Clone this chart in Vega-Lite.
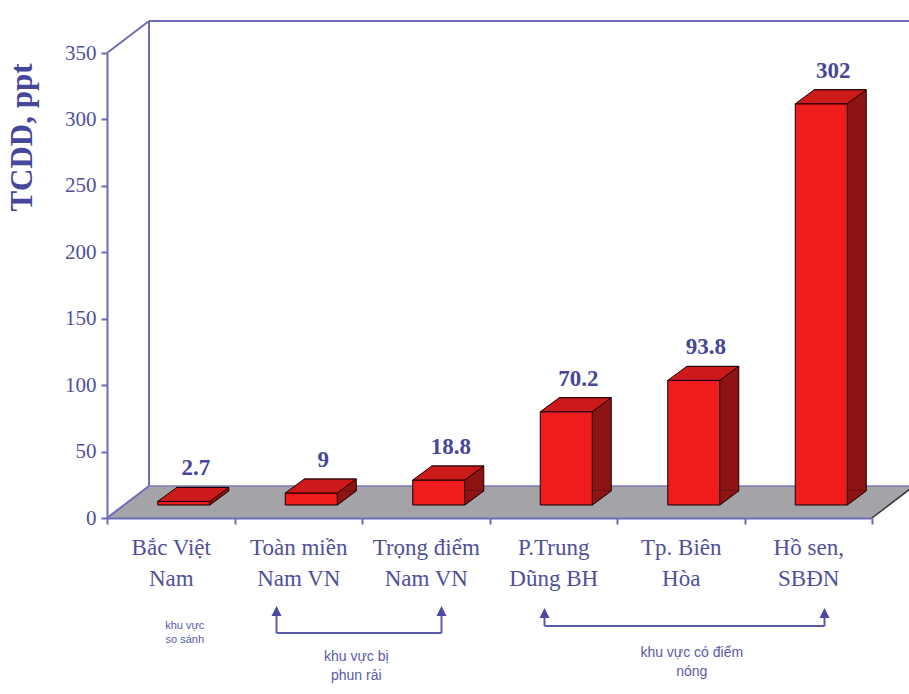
{
  "$schema": "https://vega.github.io/schema/vega-lite/v6.json",
  "width": 765,
  "height": 465,
  "autosize": {"type": "none"},
  "padding": {"left": 107, "top": 53, "right": 37, "bottom": 176},
  "background": "#ffffff",
  "config": {"view": {"stroke": null}},
  "datasets": {
    "bars": [
      {"site": "Bắc Việt\nNam", "tcdd": 2.7},
      {"site": "Toàn miền\nNam VN", "tcdd": 9},
      {"site": "Trọng điểm\nNam VN", "tcdd": 18.8},
      {"site": "P.Trung\nDũng BH", "tcdd": 70.2},
      {"site": "Tp. Biên\nHòa", "tcdd": 93.8},
      {"site": "Hồ sen,\nSBĐN", "tcdd": 302}
    ]
  },
  "layer": [
    {
      "data": {"name": "bars"},
      "mark": {"type": "text", "font": "Liberation Serif", "fontWeight": "bold", "fontSize": 23, "color": "#46469a", "xOffset": 25, "yOffset": -46, "baseline": "middle", "align": "center"},
      "encoding": {
        "x": {
          "field": "site", "type": "nominal", "sort": null,
          "scale": {"type": "band", "paddingInner": 0, "paddingOuter": 0,
            "domain": ["Bắc Việt\nNam", "Toàn miền\nNam VN", "Trọng điểm\nNam VN", "P.Trung\nDũng BH", "Tp. Biên\nHòa", "Hồ sen,\nSBĐN"]},
          "axis": {
            "title": null, "orient": "bottom", "zindex": 1,
            "domainColor": "#6b6bb8", "domainWidth": 2,
            "tickBand": "extent", "tickColor": "#6b6bb8", "tickWidth": 2, "tickSize": 6,
            "labelExpr": "split(datum.label, '\\n')", "labelAngle": 0,
            "labelAlign": "center", "labelBaseline": "top",
            "labelFont": "Liberation Serif", "labelFontSize": 23, "labelColor": "#505099",
            "labelPadding": 12, "labelLineHeight": 31
          }
        },
        "y": {
          "field": "tcdd", "type": "quantitative",
          "scale": {"domain": [0, 350], "nice": false, "zero": true},
          "axis": {
            "title": "TCDD, ppt", "zindex": 1, "grid": false,
            "values": [0, 50, 100, 150, 200, 250, 300, 350],
            "domainColor": "#6b6bb8", "domainWidth": 2,
            "tickColor": "#6b6bb8", "tickWidth": 2, "tickSize": 6,
            "labelFont": "Liberation Serif", "labelFontSize": 21, "labelColor": "#505099", "labelPadding": 5,
            "titleFont": "Liberation Serif", "titleFontWeight": "bold", "titleFontSize": 31, "titleColor": "#46469a",
            "titleX": -85, "titleY": 84, "titleAngle": -90, "titleAlign": "center", "titleBaseline": "middle"
          }
        },
        "text": {"field": "tcdd", "type": "quantitative"}
      }
    },
    {
      "data": {"values": [{}]},
      "mark": {"type": "rule", "color": "#6b6bb8", "strokeWidth": 2, "xOffset": -63.75, "x2Offset": -21.75, "y2Offset": -32},
      "encoding": {
        "x": {"datum": "Bắc Việt\nNam", "type": "nominal"},
        "x2": {"datum": "Bắc Việt\nNam"},
        "y": {"datum": 350, "type": "quantitative"},
        "y2": {"datum": 350}
      }
    },
    {
      "data": {"values": [{}]},
      "mark": {"type": "rule", "color": "#6b6bb8", "strokeWidth": 2, "xOffset": -21.75, "yOffset": -32, "y2Offset": -32},
      "encoding": {
        "x": {"datum": "Bắc Việt\nNam", "type": "nominal"},
        "y": {"datum": 350, "type": "quantitative"},
        "y2": {"datum": 0}
      }
    },
    {
      "data": {"values": [{}]},
      "mark": {"type": "rule", "color": "#6b6bb8", "strokeWidth": 2, "xOffset": -21.75, "x2Offset": 105.75, "yOffset": -32},
      "encoding": {
        "x": {"datum": "Bắc Việt\nNam", "type": "nominal"},
        "x2": {"datum": "Hồ sen,\nSBĐN"},
        "y": {"datum": 350, "type": "quantitative"}
      }
    },
    {
      "data": {"values": [{}]},
      "mark": {"type": "point", "shape": "M0,0 L765,0 L807,-32 L42,-32 Z", "size": 4, "filled": true, "fill": "#a4a4a8", "strokeWidth": 0, "opacity": 1, "xOffset": -63.75},
      "encoding": {
        "x": {"datum": "Bắc Việt\nNam", "type": "nominal"},
        "y": {"datum": 0, "type": "quantitative"}
      }
    },
    {
      "data": {"values": [{}]},
      "mark": {"type": "rule", "color": "#6b6bb8", "strokeWidth": 2, "xOffset": -63.75, "x2Offset": -21.75, "y2Offset": -32},
      "encoding": {
        "x": {"datum": "Bắc Việt\nNam", "type": "nominal"},
        "x2": {"datum": "Bắc Việt\nNam"},
        "y": {"datum": 0, "type": "quantitative"},
        "y2": {"datum": 0}
      }
    },
    {
      "data": {"values": [{}]},
      "mark": {"type": "rule", "color": "#7a7ab8", "strokeWidth": 1.5, "xOffset": -21.75, "x2Offset": 105.75, "yOffset": -32},
      "encoding": {
        "x": {"datum": "Bắc Việt\nNam", "type": "nominal"},
        "x2": {"datum": "Hồ sen,\nSBĐN"},
        "y": {"datum": 0, "type": "quantitative"}
      }
    },
    {
      "data": {"values": [{}]},
      "mark": {"type": "rule", "color": "#333333", "strokeWidth": 1.5, "xOffset": 63.75, "x2Offset": 105.75, "y2Offset": -32},
      "encoding": {
        "x": {"datum": "Hồ sen,\nSBĐN", "type": "nominal"},
        "x2": {"datum": "Hồ sen,\nSBĐN"},
        "y": {"datum": 0, "type": "quantitative"},
        "y2": {"datum": 0}
      }
    },
    {
      "data": {"name": "bars"},
      "mark": {"type": "bar", "width": {"band": 0.408}, "xOffset": 32, "yOffset": -27, "y2Offset": -27, "fill": "#8e1414", "stroke": "#140000", "strokeWidth": 1},
      "encoding": {
        "x": {"field": "site", "type": "nominal", "sort": null},
        "y": {"field": "tcdd", "type": "quantitative"},
        "y2": {"datum": 0}
      }
    },
    {
      "data": {"name": "bars"},
      "mark": {"type": "point", "shape": "M26,0.5 L26,-14.6 L45.6,-14.6 Z", "size": 4, "filled": true, "fill": "#8e1414", "strokeWidth": 0, "opacity": 1, "xOffset": 13, "yOffset": -13},
      "encoding": {
        "x": {"field": "site", "type": "nominal", "sort": null},
        "y": {"datum": 0, "type": "quantitative"}
      }
    },
    {
      "data": {"name": "bars"},
      "mark": {"type": "bar", "width": {"band": 0.408}, "xOffset": 13, "yOffset": -13, "y2Offset": -13, "fill": "#ee1c1c", "stroke": "#140000", "strokeWidth": 1},
      "encoding": {
        "x": {"field": "site", "type": "nominal", "sort": null},
        "y": {"field": "tcdd", "type": "quantitative"},
        "y2": {"datum": 0}
      }
    },
    {
      "data": {"name": "bars"},
      "mark": {"type": "point", "shape": "M-26,0 L26,0 L45,-14 L-7,-14 Z", "size": 4, "filled": true, "fill": "#cc1a1a", "stroke": "#140000", "strokeWidth": 1, "opacity": 1, "xOffset": 13, "yOffset": -13},
      "encoding": {
        "x": {"field": "site", "type": "nominal", "sort": null},
        "y": {"field": "tcdd", "type": "quantitative"}
      }
    },
    {
      "data": {"name": "bars"},
      "mark": {"type": "point", "shape": "M26,0 L45,-14", "size": 4, "filled": false, "stroke": "#140000", "strokeWidth": 1, "opacity": 1, "xOffset": 13, "yOffset": -13},
      "encoding": {
        "x": {"field": "site", "type": "nominal", "sort": null},
        "y": {"datum": 0, "type": "quantitative"}
      }
    },
    {
      "data": {"values": [{"note": ["khu vực", "so sánh"]}]},
      "mark": {"type": "text", "font": "Liberation Sans Narrow, Liberation Sans", "fontSize": 11, "color": "#5a5aaa", "lineHeight": 14, "baseline": "top", "align": "center", "xOffset": 14},
      "encoding": {
        "x": {"datum": "Bắc Việt\nNam", "type": "nominal"},
        "y": {"datum": -76.5, "type": "quantitative"},
        "text": {"field": "note"}
      }
    },
    {
      "data": {"values": [{"note": ["khu vực bị", "phun rải"]}]},
      "mark": {"type": "text", "font": "Liberation Sans", "fontSize": 14, "color": "#5a5aaa", "lineHeight": 19, "baseline": "top", "align": "center", "xOffset": 58},
      "encoding": {
        "x": {"datum": "Toàn miền\nNam VN", "type": "nominal"},
        "y": {"datum": -99, "type": "quantitative"},
        "text": {"field": "note"}
      }
    },
    {
      "data": {"values": [{"note": ["khu vực có điểm", "nóng"]}]},
      "mark": {"type": "text", "font": "Liberation Sans", "fontSize": 14, "color": "#5a5aaa", "lineHeight": 19, "baseline": "top", "align": "center", "xOffset": 11},
      "encoding": {
        "x": {"datum": "Tp. Biên\nHòa", "type": "nominal"},
        "y": {"datum": -96.7, "type": "quantitative"},
        "text": {"field": "note"}
      }
    },
    {
      "data": {"values": [{}]},
      "mark": {"type": "rule", "color": "#5a5aaa", "strokeWidth": 2, "xOffset": -21.75, "x2Offset": 15.75},
      "encoding": {
        "x": {"datum": "Toàn miền\nNam VN", "type": "nominal"},
        "x2": {"datum": "Trọng điểm\nNam VN"},
        "y": {"datum": -86.6, "type": "quantitative"}
      }
    },
    {
      "data": {"values": [{}]},
      "mark": {"type": "rule", "color": "#5a5aaa", "strokeWidth": 2, "xOffset": -21.75},
      "encoding": {
        "x": {"datum": "Toàn miền\nNam VN", "type": "nominal"},
        "y": {"datum": -70.8, "type": "quantitative"},
        "y2": {"datum": -86.6}
      }
    },
    {
      "data": {"values": [{}]},
      "mark": {"type": "rule", "color": "#5a5aaa", "strokeWidth": 2, "xOffset": 15.75},
      "encoding": {
        "x": {"datum": "Trọng điểm\nNam VN", "type": "nominal"},
        "y": {"datum": -70.8, "type": "quantitative"},
        "y2": {"datum": -86.6}
      }
    },
    {
      "data": {"values": [{}]},
      "mark": {"type": "point", "shape": "M0,-6 L5,4 L-5,4 Z", "size": 4, "filled": true, "fill": "#4a4aa0", "strokeWidth": 0, "opacity": 1, "xOffset": -21.75},
      "encoding": {
        "x": {"datum": "Toàn miền\nNam VN", "type": "nominal"},
        "y": {"datum": -70.8, "type": "quantitative"}
      }
    },
    {
      "data": {"values": [{}]},
      "mark": {"type": "point", "shape": "M0,-6 L5,4 L-5,4 Z", "size": 4, "filled": true, "fill": "#4a4aa0", "strokeWidth": 0, "opacity": 1, "xOffset": 15.75},
      "encoding": {
        "x": {"datum": "Trọng điểm\nNam VN", "type": "nominal"},
        "y": {"datum": -70.8, "type": "quantitative"}
      }
    },
    {
      "data": {"values": [{}]},
      "mark": {"type": "rule", "color": "#5a5aaa", "strokeWidth": 2, "xOffset": -8.75, "x2Offset": 16.25},
      "encoding": {
        "x": {"datum": "P.Trung\nDũng BH", "type": "nominal"},
        "x2": {"datum": "Hồ sen,\nSBĐN"},
        "y": {"datum": -81.3, "type": "quantitative"}
      }
    },
    {
      "data": {"values": [{}]},
      "mark": {"type": "rule", "color": "#5a5aaa", "strokeWidth": 2, "xOffset": -8.75},
      "encoding": {
        "x": {"datum": "P.Trung\nDũng BH", "type": "nominal"},
        "y": {"datum": -72.3, "type": "quantitative"},
        "y2": {"datum": -81.3}
      }
    },
    {
      "data": {"values": [{}]},
      "mark": {"type": "rule", "color": "#5a5aaa", "strokeWidth": 2, "xOffset": 16.25},
      "encoding": {
        "x": {"datum": "Hồ sen,\nSBĐN", "type": "nominal"},
        "y": {"datum": -72.3, "type": "quantitative"},
        "y2": {"datum": -81.3}
      }
    },
    {
      "data": {"values": [{}]},
      "mark": {"type": "point", "shape": "M0,-6 L5,4 L-5,4 Z", "size": 4, "filled": true, "fill": "#4a4aa0", "strokeWidth": 0, "opacity": 1, "xOffset": -8.75},
      "encoding": {
        "x": {"datum": "P.Trung\nDũng BH", "type": "nominal"},
        "y": {"datum": -72.3, "type": "quantitative"}
      }
    },
    {
      "data": {"values": [{}]},
      "mark": {"type": "point", "shape": "M0,-6 L5,4 L-5,4 Z", "size": 4, "filled": true, "fill": "#4a4aa0", "strokeWidth": 0, "opacity": 1, "xOffset": 16.25},
      "encoding": {
        "x": {"datum": "Hồ sen,\nSBĐN", "type": "nominal"},
        "y": {"datum": -72.3, "type": "quantitative"}
      }
    }
  ]
}
